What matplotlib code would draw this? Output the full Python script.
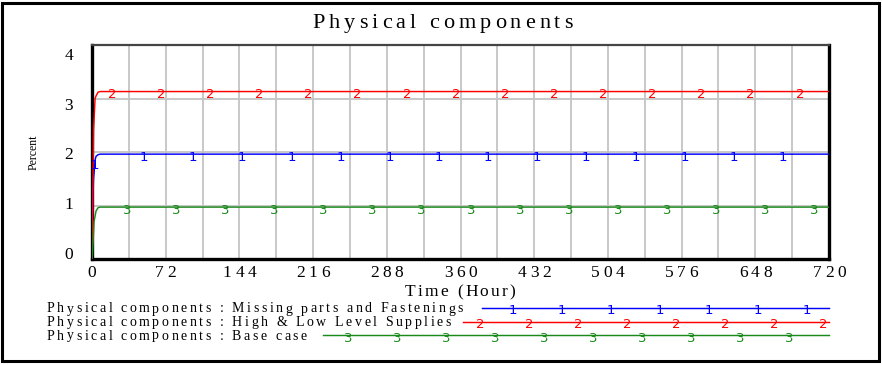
import numpy as np
import matplotlib
matplotlib.use("Agg")
import matplotlib.pyplot as plt
from matplotlib.patches import Rectangle
from matplotlib import font_manager, ft2font, transforms

# ---------------- data ----------------
time = [0, 0.5, 1, 1.5, 2, 3, 4, 6, 8, 720]
missing_parts = [0, 0.3, 1.2, 1.5, 1.6, 1.85, 1.92, 1.95, 1.96, 1.96]
high_low = [0, 0.5, 1.6, 2.4, 2.6, 3.0, 3.05, 3.12, 3.13, 3.13]
base_case = [0, 0.1, 0.3, 0.5, 0.7, 0.8, 0.9, 0.96, 0.97, 0.97]

series_names = [
    "Physical components : Missing parts and Fastenings",
    "Physical components : High & Low Level Supplies",
    "Physical components : Base case",
]
series_values = [missing_parts, high_low, base_case]
series_colors = ["#0000ff", "#ff0000", "#1a8a1a"]
series_marks = ["1", "2", "3"]
mark_start = [2.8, 19.5, 34.0]   # hours of first numbered marker
mark_step = 48

xticks = [0, 72, 144, 216, 288, 360, 432, 504, 576, 648, 720]
yticks = [0, 1, 2, 3, 4]

title = "Physical components"
xlabel = "Time (Hour)"
ylabel = "Percent"

W, H = 882, 365
fig = plt.figure(figsize=(W / 100, H / 100), dpi=100)
SERIF = "Liberation Serif"
MARKFONT = "DejaVu Sans"

# overlay axes in pixel units (for frame, letter-spaced texts and legend)
lax = fig.add_axes([0, 0, 1, 1], zorder=5)
lax.set_xlim(0, W)
lax.set_ylim(H, 0)
lax.axis("off")
lax.patch.set_alpha(0)
lax.add_patch(Rectangle((2, 3), W - 5, H - 7, fill=False, ec="black", lw=2.2))

_font_cache = {}


def advances(s, family, size):
    key = (family, size)
    if key not in _font_cache:
        path = font_manager.findfont(font_manager.FontProperties(family=family))
        f = ft2font.FT2Font(path, hinting_factor=1)
        f.set_size(size, 100)
        _font_cache[key] = f
    f = _font_cache[key]
    return [f.load_char(ord(c)).linearHoriAdvance / 65536 for c in s]


def tracked_text(x, y, s, size, family=SERIF, tracking=None, width=None,
                 ha="left", color="black"):
    adv = advances(s, family, size)
    nat = sum(adv)
    if width is not None:
        tracking = (width - nat) / max(len(s) - 1, 1)
    total = nat + tracking * (len(s) - 1)
    x0 = {"left": x, "center": x - total / 2, "right": x - total}[ha]
    for c, a in zip(s, adv):
        if c != " ":
            lax.text(x0, y, c, family=family, fontsize=size, color=color,
                     ha="left", va="baseline")
        x0 += a + tracking
    return tracking


# main axes
L, R, T, B = 92, 829, 45, 259
rect = [L / W, 1 - B / H, (R - L) / W, (B - T) / H]
ax = fig.add_axes(rect)
ax.set_xlim(0, 720)
ax.set_ylim(0, 4)
ax.set_xticks(xticks)
ax.set_xticks(np.arange(36, 720, 72), minor=True)
ax.set_yticks(yticks)
ax.set_xticklabels([])
ax.set_yticklabels([])
ax.grid(True, which="both", color="#c4c4c4", lw=1.3)
ax.set_axisbelow(True)
ax.tick_params(which="both", length=0)
for side in ["left", "right", "bottom"]:
    ax.spines[side].set_linewidth(2.4)
    ax.spines[side].set_color("black")
ax.spines["top"].set_linewidth(1.6)
ax.spines["top"].set_color("#444444")

# y tick labels (Vensim spaces them slightly differently from the grid)
ayl = fig.add_axes(rect, frameon=False)
ayl.patch.set_alpha(0)
ayl.set_ylim(-0.12, 4.18)
ayl.set_yticks(yticks)
ayl.set_xticks([])
ayl.tick_params(axis="y", length=0, pad=19 * 0.72, labelsize=12.5)
for lab in ayl.get_yticklabels():
    lab.set_family(SERIF)

mark_tf = transforms.offset_copy(ax.transData, fig=fig, x=0, y=-3, units="dots")
for vals, col, mk, st in zip(series_values, series_colors, series_marks, mark_start):
    ax.plot(time, vals, color=col, lw=1.05, zorder=3)
    mt = np.arange(st, 720, mark_step)
    mv = np.interp(mt, time, vals)
    for t, v in zip(mt, mv):
        ax.text(t, v, mk, color=col, fontsize=9.5, family=MARKFONT,
                ha="center", va="center", zorder=4, transform=mark_tf)

# x tick labels, letter-spaced like the reference
for xt in xticks:
    px = ax.transData.transform((xt, 0))[0]
    tracked_text(px, 277, str(xt), 12.5, tracking=3.8, ha="center")

tracked_text(460, 296, xlabel, 12.5, width=110, ha="center")
tracked_text(442.5, 28, title, 16, width=261, ha="center")
ax.set_ylabel(ylabel, family=SERIF, fontsize=8.5, labelpad=34)

# legend rows
rows_y = [308, 322, 335]
base_y = [312.5, 326, 339.5]
line_x0 = [482, 463, 323]
lmark_x0 = [513, 480, 348]
trk = None
for name, col, mk, y, by, x0, m0 in zip(series_names, series_colors, series_marks,
                                        rows_y, base_y, line_x0, lmark_x0):
    if trk is None:
        trk = tracked_text(47, by, name, 10, width=416)
    else:
        tracked_text(47, by, name, 10, tracking=trk)
    lax.plot([x0, 829], [y, y], color=col, lw=1.05)
    for mx in np.arange(m0, 830, 49):
        lax.text(mx, y + 3, mk, color=col, fontsize=9.5, family=MARKFONT,
                 ha="center", va="center")

fig.savefig("out.png", dpi=100)
